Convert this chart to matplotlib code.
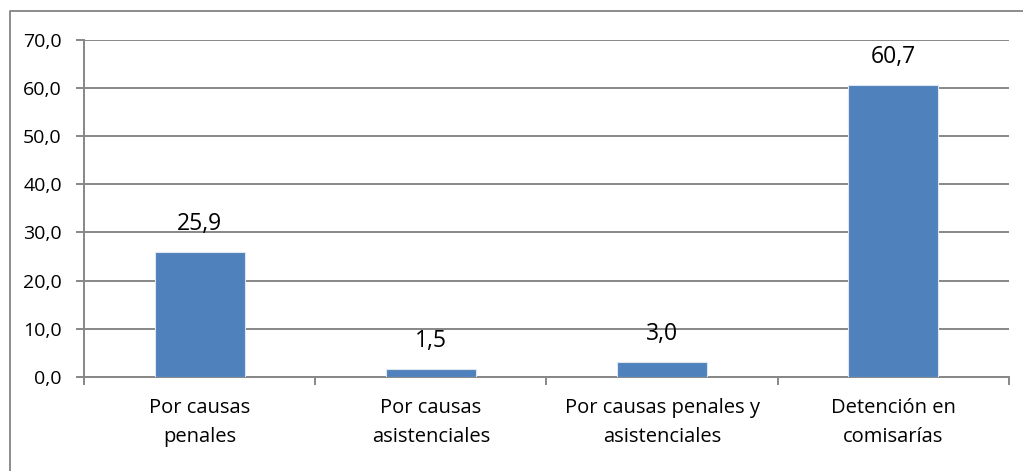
import matplotlib
matplotlib.use("Agg")
import matplotlib.pyplot as plt
from matplotlib.lines import Line2D

# data
categories = ["Por causas\npenales", "Por causas\nasistenciales",
              "Por causas penales y\nasistenciales", "Detención en\ncomisarías"]
values = [25.9, 1.5, 3.0, 60.7]
yticks = [0, 10, 20, 30, 40, 50, 60, 70]

bar_color = "#4F81BD"
grid_color = "#878787"

plt.rcParams["font.family"] = ["Open Sans", "DejaVu Sans"]

fig = plt.figure(figsize=(10.23, 4.71), dpi=100)
ax = fig.add_axes([0.0821, 0.2002, 0.9042, 0.7149])

# outer chart border (only left and top show in the crop)
fig.lines.append(Line2D([9.5 / 1023, 9.5 / 1023, 1.0], [0.0, 1 - 10.5 / 471, 1 - 10.5 / 471],
                        transform=fig.transFigure, color="#8c8c8c", linewidth=1.4))

x = list(range(len(values)))
bars = ax.bar(x, values, width=0.39, color=bar_color, edgecolor="#dfe6f0",
              linewidth=0.8, zorder=3)

for xi, v in zip(x, values):
    ax.annotate(f"{v:.1f}".replace(".", ","), (xi, v), xytext=(0, 16),
                textcoords="offset pixels", ha="center", va="bottom",
                fontsize=16.5, color="black")

ax.set_xlim(-0.5, len(values) - 0.5)
ax.set_ylim(0, 70)
ax.set_yticks(yticks)
ax.set_yticklabels([f"{t:.1f}".replace(".", ",") for t in yticks], fontsize=14)
ax.yaxis.grid(True, color=grid_color, linewidth=1.4, zorder=0)

# category labels centered, ticks at category boundaries
ax.set_xticks(x)
ax.set_xticklabels(categories, fontsize=14.5, linespacing=1.65)
ax.tick_params(axis="x", which="major", length=0, pad=15)
ax.set_xticks([i - 0.5 for i in range(len(values) + 1)], minor=True)
ax.tick_params(axis="x", which="minor", length=6, color=grid_color, width=1.4)
ax.tick_params(axis="y", length=6, color=grid_color, width=1.4, pad=10)

for side in ["top", "right"]:
    ax.spines[side].set_visible(False)
ax.spines["bottom"].set_color(grid_color)
ax.spines["bottom"].set_linewidth(1.4)
ax.spines["left"].set_color(grid_color)
ax.spines["left"].set_linewidth(1.4)

fig.savefig("out.png", dpi=100)
